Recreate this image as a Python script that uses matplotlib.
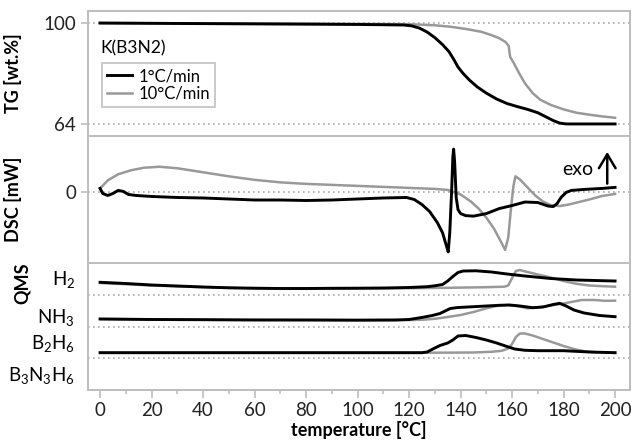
import matplotlib
matplotlib.use("Agg")
import matplotlib.pyplot as plt
from matplotlib.ticker import MultipleLocator

plt.rcParams["font.family"] = ["Lato", "DejaVu Sans"]
plt.rcParams["mathtext.fontset"] = "custom"
plt.rcParams["mathtext.rm"] = "Lato"
plt.rcParams["mathtext.it"] = "Lato:italic"
plt.rcParams["mathtext.bf"] = "Lato:bold"

# --- TG [wt.%] ---
tg_t_slow = [0, 20, 40, 60, 80, 100, 110, 118, 121, 124, 127, 130, 133, 135.5, 137.5, 139, 141,
             143.5, 146.5, 150, 154, 158, 162, 166, 170, 173, 176, 178.5, 181, 190, 200]
tg_slow = [100, 99.9, 99.8, 99.7, 99.6, 99.5, 99.4, 99.3, 99.0, 98.2, 96.8, 94.8, 92.3, 89.8, 86.8,
           84.3, 82.0, 79.6, 77.2, 75.0, 72.9, 71.3, 70.2, 69.2, 68.0, 66.6, 65.2, 64.3, 64.0, 64.0, 64.0]
tg_t_fast = [0, 40, 80, 120, 130, 136, 142, 148, 152, 155, 157.5, 158.7, 159, 159.3, 160.5, 162.5,
             165, 168, 171, 175, 180, 185, 190, 195, 200]
tg_fast = [100, 99.9, 99.8, 99.6, 99.2, 98.7, 97.9, 96.9, 95.7, 94.6, 93.2, 91.8, 89.5, 87.8, 86.0,
           82.5, 78.5, 75.0, 72.6, 70.8, 69.2, 68.0, 67.3, 66.7, 66.2]

# --- DSC [mW] ---
dsc_t_slow = [0, 1, 3, 5, 7, 9, 11, 14, 20, 30, 40, 50, 60, 70, 80, 90, 100, 110, 119, 122, 125, 128,
              131, 133, 134.5, 135.2, 135.8, 136.5, 137.0, 137.3, 137.7, 138.3, 139, 140, 142, 145, 150,
              155, 160, 165, 170, 174, 176, 177.5, 179, 181, 183, 188, 195, 200]
dsc_slow = [0.4, -0.1, -0.3, -0.1, 0.2, 0.1, -0.2, -0.3, -0.4, -0.5, -0.55, -0.65, -0.75, -0.75, -0.8,
            -0.75, -0.65, -0.55, -0.5, -0.7, -1.2, -1.9, -3.0, -4.0, -5.3, -5.9, -4.0, 0.0, 3.5, 4.3,
            3.0, -0.5, -1.7, -2.1, -2.3, -2.35, -2.1, -1.6, -1.3, -0.95, -1.0, -1.35, -1.4, -1.1, -0.5,
            0.0, 0.2, 0.3, 0.4, 0.5]
dsc_t_fast = [0, 3, 7, 12, 17, 23, 30, 40, 50, 60, 70, 80, 90, 100, 110, 120, 130, 135, 140, 144, 147,
              150, 153, 155.5, 157.3, 158.5, 159.5, 160.5, 161.3, 163, 166, 169, 172, 175, 178.5, 182,
              186, 190, 195, 200]
dsc_fast = [0.4, 1.2, 1.8, 2.2, 2.45, 2.55, 2.4, 2.0, 1.6, 1.25, 1.0, 0.85, 0.75, 0.65, 0.55, 0.45,
            0.35, 0.25, -0.2, -0.9, -1.6, -2.5, -3.6, -4.8, -5.7, -4.5, -1.8, 0.6, 1.6, 1.3, 0.5, -0.3,
            -0.9, -1.25, -1.35, -1.2, -0.95, -0.7, -0.35, -0.15]

# --- QMS (stacked, arbitrary units) ---
h2_t_slow = [0, 10, 20, 30, 40, 50, 60, 70, 80, 90, 100, 110, 120, 127, 130, 133, 135, 137, 139, 141,
             146, 152, 158, 165, 175, 185, 195, 200]
h2_slow = [10.77, 10.65, 10.5, 10.4, 10.3, 10.22, 10.18, 10.15, 10.15, 10.17, 10.18, 10.2, 10.25, 10.33,
           10.42, 10.55, 10.9, 11.35, 11.75, 11.9, 11.92, 11.8, 11.6, 11.4, 11.15, 11.0, 10.93, 10.9]
h2_t_fast = [0, 20, 40, 60, 80, 100, 120, 135, 150, 157, 158.5, 160, 161.5, 163, 166, 170, 175, 180,
             185, 190, 195, 200]
h2_fast = [10.7, 10.45, 10.28, 10.15, 10.12, 10.15, 10.18, 10.22, 10.28, 10.33, 10.45, 11.2, 11.9, 12.0,
           11.8, 11.55, 11.25, 10.9, 10.62, 10.45, 10.38, 10.33]

nh3_t_slow = [0, 20, 40, 60, 80, 100, 115, 120, 123, 126, 129, 132, 134, 136, 139, 145, 150, 155, 159,
              163, 168, 172, 176, 178.5, 181, 184, 188, 194, 200]
nh3_slow = [7.1, 7.05, 7.03, 7.0, 7.0, 6.98, 7.0, 7.05, 7.17, 7.3, 7.45, 7.65, 7.9, 8.15, 8.25, 8.33,
            8.4, 8.47, 8.5, 8.4, 8.23, 8.3, 8.55, 8.67, 8.4, 8.0, 7.7, 7.45, 7.33]
nh3_t_fast = [0, 40, 80, 120, 125, 130, 135, 140, 145, 150, 154, 158, 162, 166, 170, 175, 180, 184, 187,
              192, 196, 200]
nh3_fast = [7.1, 7.03, 7.0, 7.0, 7.02, 7.12, 7.3, 7.5, 7.8, 8.17, 8.4, 8.5, 8.4, 8.17, 8.25, 8.45, 8.65,
            8.85, 9.0, 9.0, 8.92, 8.93]

b2h6_t_slow = [0, 50, 100, 125, 127, 130, 132, 135, 137, 139, 142, 146, 150, 154, 158, 161, 165, 170,
               180, 190, 200]
b2h6_slow = [3.73, 3.73, 3.73, 3.73, 3.8, 4.2, 4.45, 4.7, 5.0, 5.4, 5.45, 5.25, 5.0, 4.7, 4.35, 4.1,
             3.97, 3.93, 3.93, 3.8, 3.73]
b2h6_t_fast = [0, 100, 130, 145, 152, 156, 158.5, 160, 161.5, 163, 165, 168, 172, 176, 180, 184, 188,
               192, 200]
b2h6_fast = [3.73, 3.73, 3.73, 3.75, 3.82, 3.92, 4.15, 4.6, 5.3, 5.65, 5.65, 5.45, 5.1, 4.75, 4.4, 4.1,
             3.88, 3.78, 3.73]

qms_labels = ["H$_2$", "NH$_3$", "B$_2$H$_6$", "B$_3$N$_3$H$_6$"]
qms_label_y = [11.0, 7.3, 4.7, 1.5]
qms_baselines = [9.5, 6.3, 3.2]

BLACK = "black"
GREY = "#999999"
FRAME = "#bdbdbd"
DOT = "#aaaaaa"
lw_b, lw_g = 2.1, 1.8

fig = plt.figure(figsize=(6.34, 4.45), dpi=100)
left, width = 88 / 634, 542 / 634
ax_tg = fig.add_axes([left, 309 / 445, width, 125 / 445])
ax_dsc = fig.add_axes([left, 182 / 445, width, 127 / 445])
ax_qms = fig.add_axes([left, 55 / 445, width, 127 / 445])

for ax in (ax_tg, ax_dsc, ax_qms):
    ax.set_xlim(-4.7, 205.8)
    for sp in ax.spines.values():
        sp.set_color(FRAME)
        sp.set_linewidth(1.4)
    ax.tick_params(axis="y", colors=FRAME, labelcolor="#222222", labelsize=13.5, length=5, width=1.2)

for ax in (ax_tg, ax_dsc):
    ax.tick_params(axis="x", bottom=False, labelbottom=False)

# TG
ax_tg.set_ylim(59.7, 104.3)
ax_tg.set_yticks([64, 100])
for yv in [64, 100]:
    ax_tg.axhline(yv, color=DOT, lw=1.2, ls=(0, (1, 2)), zorder=1)
ax_tg.plot(tg_t_slow, tg_slow, color=BLACK, lw=lw_b, label="1°C/min", zorder=3)
ax_tg.plot(tg_t_fast, tg_fast, color=GREY, lw=lw_g, label="10°C/min", zorder=2)
ax_tg.text(0.022, 0.70, "K(B3N2)", transform=ax_tg.transAxes, fontsize=12.5, va="center", ha="left")
leg = ax_tg.legend(loc="upper left", bbox_to_anchor=(0.026, 0.584), borderaxespad=0, fontsize=12,
                   frameon=True, fancybox=False, handlelength=1.5, handletextpad=0.4,
                   borderpad=0.3, labelspacing=0.1)
leg.get_frame().set_edgecolor(FRAME)
leg.get_frame().set_linewidth(1.4)
ax_tg.set_ylabel("TG [wt.%]", fontsize=13, fontweight="bold")
ax_tg.yaxis.set_label_coords(-0.122, 0.5)

# DSC
ax_dsc.set_ylim(-7.0, 5.6)
ax_dsc.set_yticks([0])
ax_dsc.axhline(0, color=DOT, lw=1.2, ls=(0, (1, 2)), zorder=1)
ax_dsc.plot(dsc_t_fast, dsc_fast, color=GREY, lw=lw_g, zorder=2)
ax_dsc.plot(dsc_t_slow, dsc_slow, color=BLACK, lw=lw_b, zorder=3)
ax_dsc.text(0.932, 0.74, "exo", transform=ax_dsc.transAxes, fontsize=14, ha="right", va="center")
ax_dsc.annotate("", xy=(0.958, 0.875), xytext=(0.958, 0.625), xycoords="axes fraction",
                arrowprops=dict(arrowstyle="->,head_length=0.5,head_width=0.3", color="black",
                                lw=1.8, mutation_scale=20, shrinkA=0, shrinkB=0))
ax_dsc.set_ylabel("DSC [mW]", fontsize=13, fontweight="bold")
ax_dsc.yaxis.set_label_coords(-0.122, 0.5)

# QMS
ax_qms.set_ylim(0, 12.7)
ax_qms.set_yticks([])
for yv in qms_baselines:
    ax_qms.axhline(yv, color=DOT, lw=1.2, ls=(0, (1, 2)), zorder=1)
for lab, yv in zip(qms_labels, qms_label_y):
    ax_qms.text(-0.024, yv, lab, transform=ax_qms.get_yaxis_transform(), fontsize=13.5,
                ha="right", va="center")
ax_qms.plot(h2_t_fast, h2_fast, color=GREY, lw=lw_g, zorder=2)
ax_qms.plot(nh3_t_fast, nh3_fast, color=GREY, lw=lw_g, zorder=2)
ax_qms.plot(b2h6_t_fast, b2h6_fast, color=GREY, lw=lw_g, zorder=2)
ax_qms.plot(h2_t_slow, h2_slow, color=BLACK, lw=lw_b, zorder=3)
ax_qms.plot(nh3_t_slow, nh3_slow, color=BLACK, lw=lw_b, zorder=3)
ax_qms.plot(b2h6_t_slow, b2h6_slow, color=BLACK, lw=lw_b, zorder=3)
ax_qms.text(-0.122, 0.84, "QMS", transform=ax_qms.transAxes, fontsize=13, fontweight="bold",
            rotation=90, ha="center", va="center")

ax_qms.xaxis.set_major_locator(MultipleLocator(20))
ax_qms.xaxis.set_minor_locator(MultipleLocator(10))
ax_qms.tick_params(axis="x", which="major", colors=FRAME, labelcolor="#222222", labelsize=13.5,
                   length=6, width=1.2, pad=3)
ax_qms.tick_params(axis="x", which="minor", colors=FRAME, length=3, width=1.2)
ax_qms.set_xlabel("temperature [°C]", fontsize=13, fontweight="bold", labelpad=1)

fig.savefig("out.png", dpi=100)
